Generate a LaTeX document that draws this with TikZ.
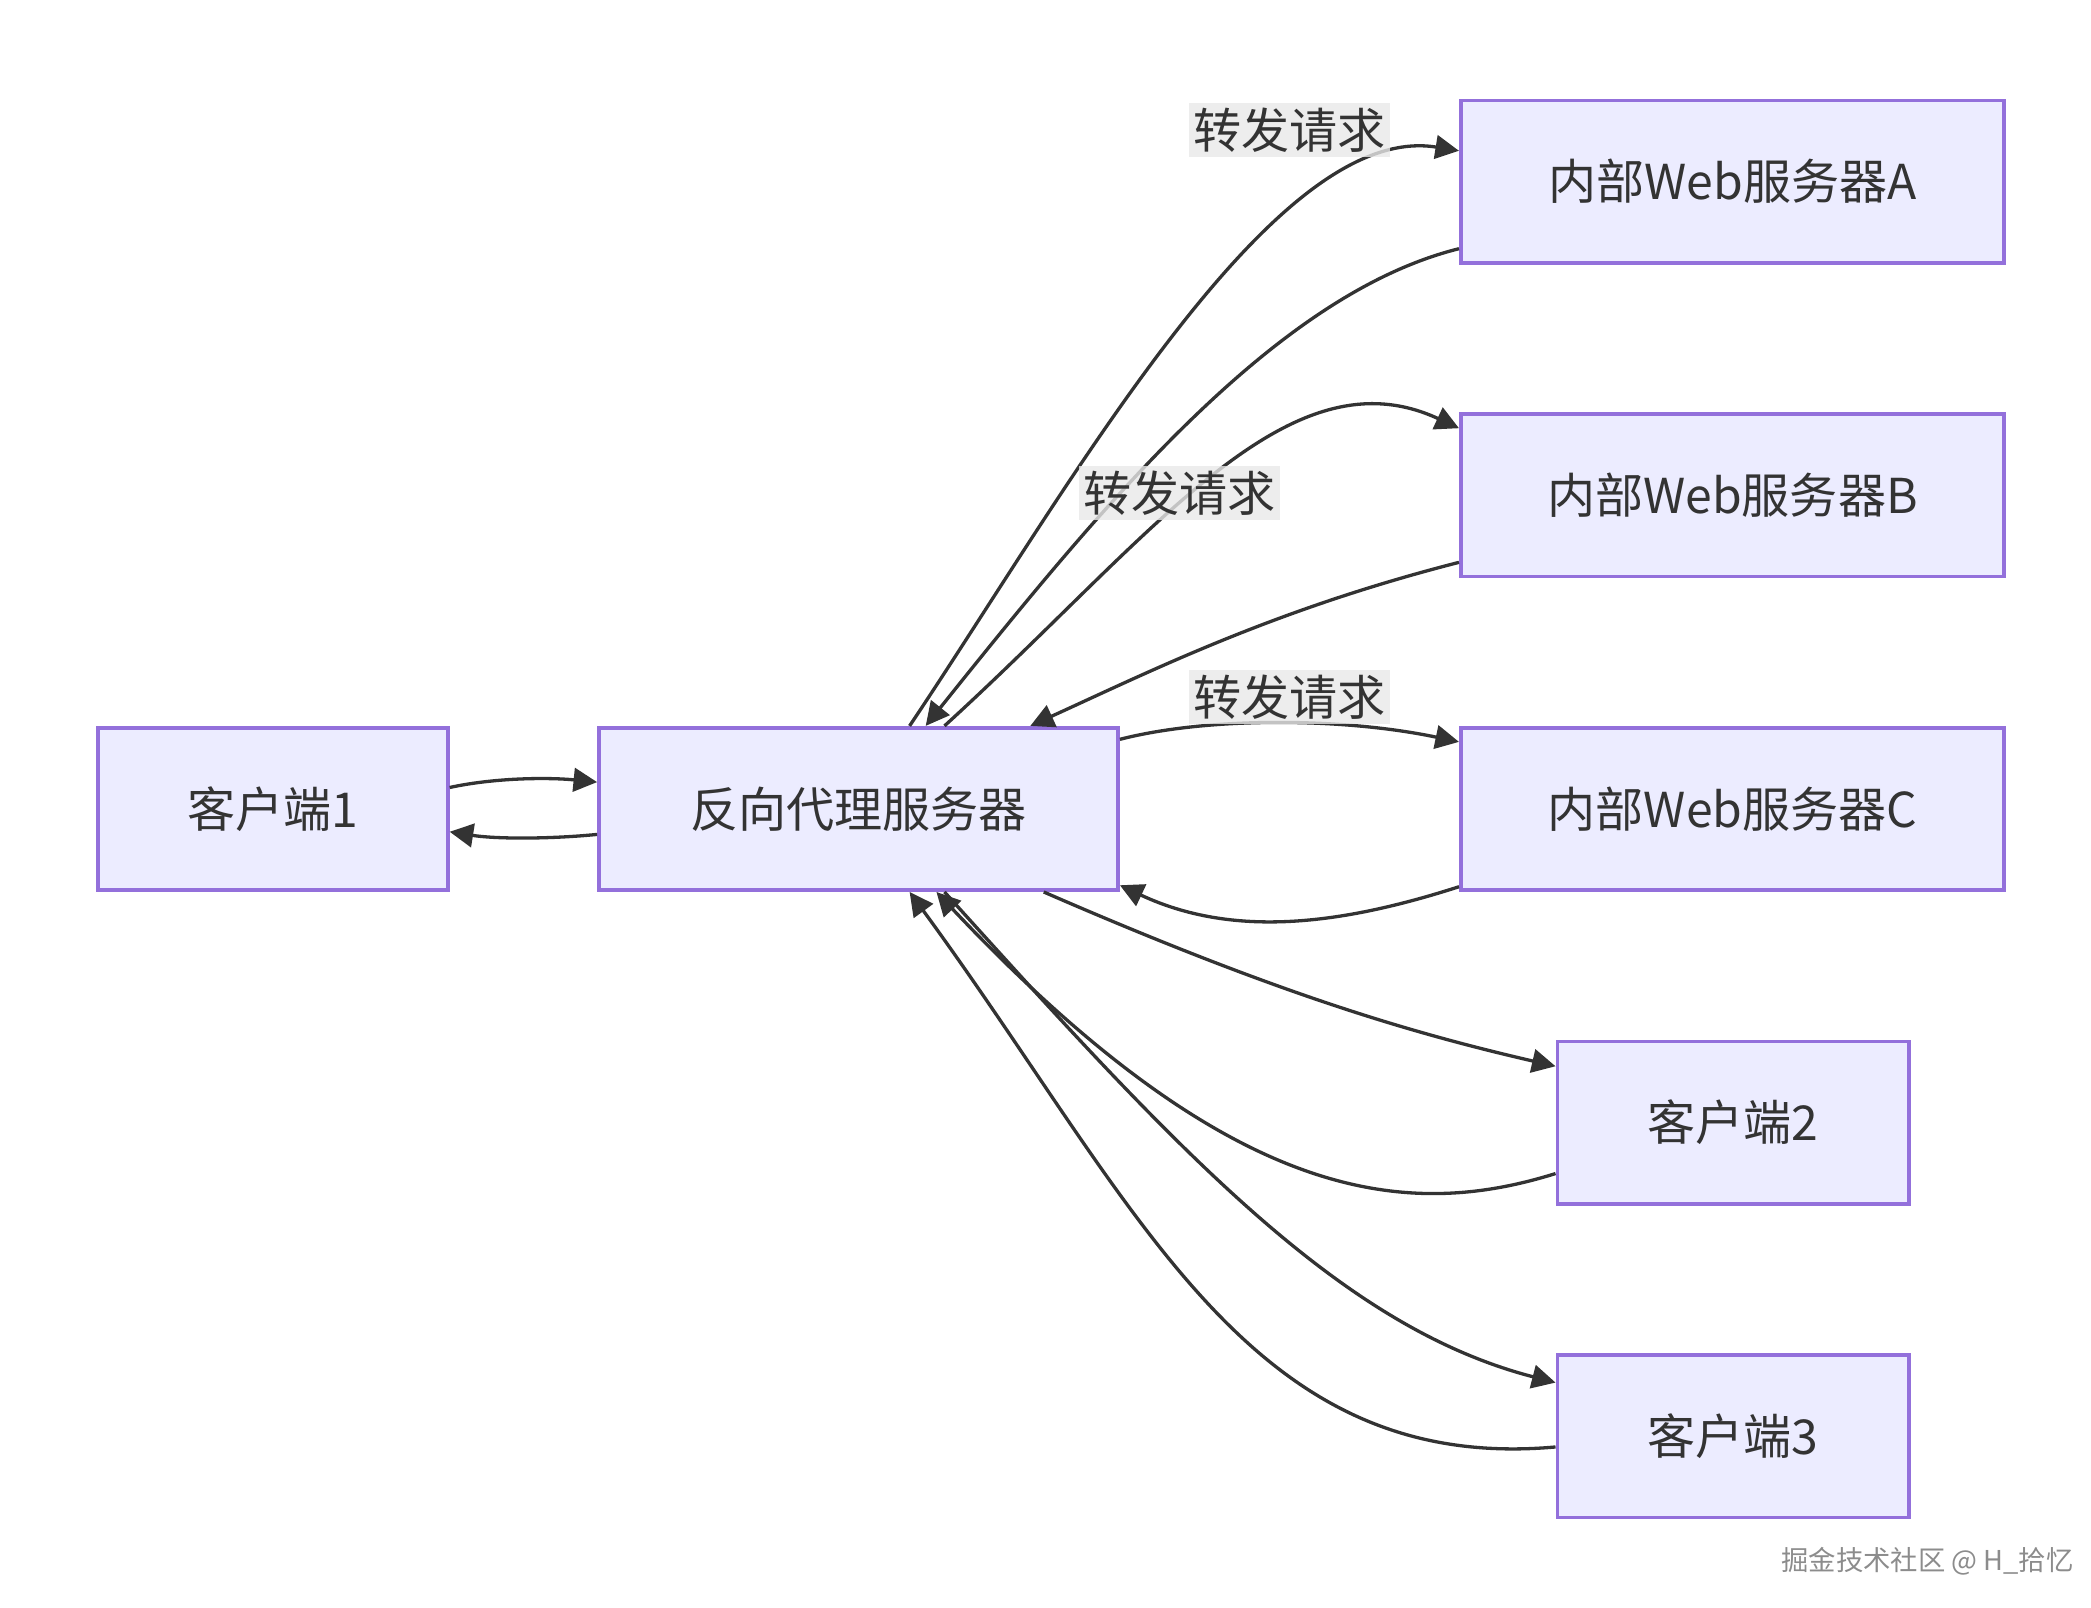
\documentclass[tikz,border=0pt]{standalone}
\usepackage{fontspec}
\setmainfont{Noto Sans CJK SC}
\usetikzlibrary{arrows.meta}
\definecolor{nfill}{HTML}{ECECFF}
\definecolor{nbord}{HTML}{9370DB}
\definecolor{edge}{HTML}{333333}
\begin{document}
\begin{tikzpicture}[x=0.01cm,y=-0.01cm,
  box/.style={draw=nbord,fill=nfill,line width=0.8pt,minimum height=1.21cm,inner sep=0pt,font=\fontsize{10.2}{12}\selectfont,text=edge},
  ar/.style={draw=edge,line width=0.7pt,-{Triangle[length=5pt,width=5pt]}},
  lbl/.style={fill=black!9,fill opacity=0.8,text opacity=1,inner sep=1pt,font=\fontsize{10.2}{12}\selectfont,text=edge}]
\useasboundingbox (0,0) rectangle (1560,1199);
\node[box,minimum width=2.61cm] (c1) at (203.5,603.5) {客户端1};
\node[box,minimum width=3.87cm] (p) at (640.5,603.5) {反向代理服务器};
\node[box,minimum width=4.05cm] (a) at (1292.5,135.5) {内部Web服务器A};
\node[box,minimum width=4.05cm] (b) at (1292.5,369.5) {内部Web服务器B};
\node[box,minimum width=4.05cm] (c) at (1292.5,603.5) {内部Web服务器C};
\node[box,minimum width=2.62cm] (c2) at (1293,837.5) {客户端2};
\node[box,minimum width=2.62cm] (c3) at (1293,1071.5) {客户端3};
\draw[ar] ([yshift=0.16cm]c1.east) .. controls (370,580) and (410,580) .. ([yshift=0.2cm]p.west);
\draw[ar] ([yshift=-0.19cm]p.west) .. controls (410,626) and (370,626) .. ([yshift=-0.17cm]c1.east);
\draw[ar] ([xshift=2.33cm]p.north west) .. controls (800,360) and (950,90) .. ([yshift=0.23cm]a.west);
\draw[ar] ([yshift=-0.5cm]a.west) .. controls (950,220) and (820,380) .. ([xshift=2.45cm]p.north west);
\draw[ar] ([xshift=2.59cm]p.north west) .. controls (860,400) and (960,260) .. ([yshift=0.5cm]b.west);
\draw[ar] ([yshift=-0.5cm]b.west) .. controls (950,455) and (860,500) .. ([xshift=3.23cm]p.north west);
\draw[ar] ([yshift=-0.1cm]p.north east) .. controls (900,535) and (1000,535) .. ([yshift=0.5cm]c.west);
\draw[ar] ([yshift=-0.58cm]c.west) .. controls (1000,690) and (920,700) .. ([yshift=0.05cm]p.south east);
\draw[ar] ([xshift=3.33cm]p.south west) .. controls (950,740) and (1050,770) .. ([yshift=0.42cm]c2.west);
\draw[ar] ([yshift=-0.38cm]c2.west) .. controls (1050,910) and (920,900) .. ([xshift=2.53cm]p.south west);
\draw[ar] ([xshift=2.59cm]p.south west) .. controls (880,860) and (1000,990) .. ([yshift=0.4cm]c3.west);
\draw[ar] ([yshift=-0.08cm]c3.west) .. controls (930,1100) and (850,900) .. ([xshift=2.33cm]p.south west);
\node[lbl] (l1) at (962,97) {转发请求};
\node[lbl] (l2) at (880,368) {转发请求};
\node[lbl] (l3) at (962,520) {转发请求};
\node[font=\fontsize{5.8}{7}\selectfont,text=black!45] (wm) at (1438,1165) {掘金技术社区 @ H\_拾忆};
\end{tikzpicture}
\end{document}
